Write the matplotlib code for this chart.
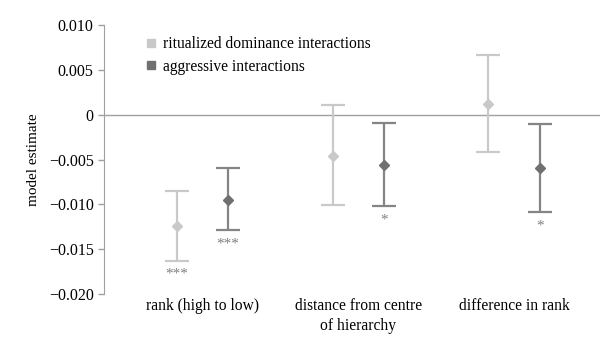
import numpy as np
import matplotlib.pyplot as plt

plt.rcParams['font.family'] = ['Liberation Serif', 'DejaVu Serif']

# data
categories = ['rank (high to low)', 'distance from centre\nof hierarchy', 'difference in rank']
ritual_est = [-0.0124, -0.0046, 0.0012]
ritual_low = [-0.0163, -0.0101, -0.0042]
ritual_high = [-0.0085, 0.0011, 0.0066]
aggr_est = [-0.0095, -0.0056, -0.0060]
aggr_low = [-0.0129, -0.0102, -0.0109]
aggr_high = [-0.0060, -0.0009, -0.0010]
ritual_sig = ['***', '', '']
aggr_sig = ['***', '*', '*']

ritual_col = '#c9c9c9'
aggr_col = '#707070'
aggr_bar = '#858585'

fig = plt.figure(figsize=(6, 3.41), dpi=100)
ax = fig.add_axes([104 / 600, 1 - 294 / 341, 1 - 104 / 600, (294 - 25) / 341])

x = np.arange(len(categories))
off = 0.165

def draw(xs, est, low, high, sig, col, barcol, label):
    est = np.array(est)
    yerr = [est - np.array(low), np.array(high) - est]
    ax.errorbar(xs, est, yerr=yerr, fmt='D', color=col, ecolor=barcol,
                markersize=5.5, elinewidth=1.6, capsize=8.5, capthick=1.6, zorder=3)
    ax.plot([], [], 's', color=col, markersize=5.5, label=label)
    for xi, lo, s in zip(xs, low, sig):
        if s:
            ax.annotate(s, (xi, lo), xytext=(0, -5), textcoords='offset points',
                        ha='center', va='top', fontsize=11, color='#808080')

draw(x - off, ritual_est, ritual_low, ritual_high, ritual_sig, ritual_col, ritual_col,
     'ritualized dominance interactions')
draw(x + off, aggr_est, aggr_low, aggr_high, aggr_sig, aggr_col, aggr_bar,
     'aggressive interactions')

ax.axhline(0, color='#a0a0a0', linewidth=1.0, zorder=1)
ax.set_xlim(-0.63, 2.55)
ax.set_ylim(-0.020, 0.010)
ax.set_yticks([0.010, 0.005, 0, -0.005, -0.010, -0.015, -0.020])
ax.set_yticklabels(['0.010', '0.005', '0', '\u22120.005', '\u22120.010', '\u22120.015', '\u22120.020'])
ax.set_xticks(x)
ax.set_xticklabels(categories, fontsize=11.2, linespacing=1.35)
ax.tick_params(axis='x', length=0, pad=3)
ax.tick_params(axis='y', labelsize=11.5, color='#a0a0a0', length=4, width=1)
for side in ['top', 'right', 'bottom']:
    ax.spines[side].set_visible(False)
ax.spines['left'].set_color('#a0a0a0')
ax.set_ylabel('model estimate', fontsize=11, labelpad=6)

ax.legend(loc='upper left', bbox_to_anchor=(0.05, 1.01), frameon=False, fontsize=11.2,
          handletextpad=0.3, labelspacing=0.4, handlelength=1.0)

fig.savefig('out.png', dpi=100)
